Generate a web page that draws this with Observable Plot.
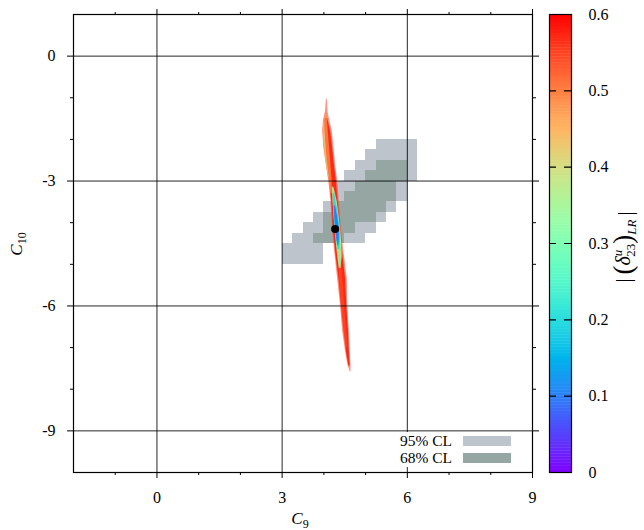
<!DOCTYPE html>
<html><head><meta charset="utf-8">
<script src="https://cdn.jsdelivr.net/npm/d3@7"></script>
<script src="https://cdn.jsdelivr.net/npm/@observablehq/plot@0.6"></script>
<style>
body{margin:0;background:#fff;}
#wrap{position:relative;width:644px;height:530px;}
#wrap svg{position:absolute;top:0;}
</style></head><body><div id="wrap"></div>
<script>
// ---- ticks ----
const xMajorTicks = [0, 3, 6, 9];
const xMinorTicks = [-1, 1, 2, 4, 5, 7, 8];
const yMajorTicks = [0, -3, -6, -9];
const yMinorTicks = [-1, -2, -4, -5, -7, -8];
const xGrid = [0, 3, 6];
const yGrid = [0, -3, -6, -9];
const cbTicks = [0, 0.1, 0.2, 0.3, 0.4, 0.5, 0.6];
const cbDashTicks = [0.1, 0.2, 0.3, 0.4, 0.5];
const legendLabels = ["95% CL", "68% CL"];
const legendColors = ["#bdc4cc", "#95a6a3"];

// ---- 95% CL cells (rows 0.25 high in C10, top edge given) ----
const cl95Top = [-2.0, -2.25, -2.5, -2.75, -3.0, -3.25, -3.5, -3.75, -4.0, -4.25, -4.5, -4.75];
const cl95Min = [5.25, 5.0, 4.75, 4.5, 4.25, 4.25, 4.0, 3.75, 3.5, 3.25, 3.0, 3.0];
const cl95Max = [6.25, 6.25, 6.25, 6.25, 6.0, 6.0, 5.75, 5.5, 5.25, 5.0, 4.0, 4.0];
// ---- 68% CL cells ----
const cl68Top = [-2.5, -2.75, -3.0, -3.25, -3.5, -3.75, -4.0, -4.25];
const cl68Min = [5.25, 5.0, 4.75, 4.5, 4.25, 4.0, 4.0, 3.75];
const cl68Max = [6.0, 6.0, 5.75, 5.75, 5.5, 5.25, 4.75, 4.5];
const cellSize = 0.25;

// ---- scan band outline, sparse edge (|delta| ~ 0.56) ----
const bandC10   = [-1.03, -1.35, -1.55, -1.8, -2.2, -2.6, -3.0, -3.5, -4.15, -4.7, -5.35, -6.0, -6.6, -7.1, -7.4, -7.58];
const bandLeft  = [4.06, 4.04, 3.99, 3.97, 4.00, 4.06, 4.12, 4.17, 4.21, 4.26, 4.33, 4.40, 4.45, 4.52, 4.57, 4.63];
const bandRight = [4.08, 4.10, 4.14, 4.20, 4.24, 4.28, 4.33, 4.37, 4.42, 4.48, 4.56, 4.57, 4.61, 4.63, 4.65, 4.65];
const bandValue = 0.56;
// dense inner part of the band
const coreC10   = [-1.5, -1.8, -2.2, -2.6, -3.0, -3.5, -4.15, -4.7, -5.35, -6.0, -6.6, -7.1, -7.45];
const coreLeft  = [4.03, 4.01, 4.03, 4.08, 4.14, 4.19, 4.23, 4.28, 4.36, 4.42, 4.48, 4.54, 4.60];
const coreRight = [4.09, 4.16, 4.21, 4.25, 4.30, 4.34, 4.40, 4.45, 4.52, 4.55, 4.59, 4.61, 4.63];
const coreValue = 0.57;
// orange speckle strip (upper part)
const orangeC10   = [-1.3, -1.6, -2.0, -2.5, -3.0, -3.3];
const orangeLeft  = [4.04, 4.00, 3.99, 4.04, 4.12, 4.17];
const orangeRight = [4.06, 4.09, 4.12, 4.16, 4.20, 4.20];
const orangeValue = 0.48;
// lighter speckles in the lower part
const lowOrangeC10   = [-5.0, -5.6, -6.3, -7.0];
const lowOrangeLeft  = [4.36, 4.39, 4.44, 4.52];
const lowOrangeRight = [4.42, 4.47, 4.52, 4.58];
const lowOrangeValue = 0.5;
// yellow-green speckles (upper left edge)
const yellowC10   = [-1.6, -2.0, -2.5, -2.9];
const yellowLeft  = [4.00, 4.00, 4.05, 4.11];
const yellowRight = [4.02, 4.04, 4.08, 4.13];
const yellowValue = 0.4;
// low-value core around best fit
const greenC10   = [-3.15, -3.5, -3.9, -4.15, -4.5, -4.8, -5.1];
const greenLeft  = [4.20, 4.22, 4.25, 4.27, 4.30, 4.33, 4.37];
const greenRight = [4.24, 4.32, 4.37, 4.40, 4.43, 4.44, 4.41];
const greenValue = 0.34;
const cyanC10   = [-3.3, -3.6, -3.9, -4.15, -4.4, -4.65];
const cyanLeft  = [4.23, 4.23, 4.25, 4.27, 4.30, 4.34];
const cyanRight = [4.26, 4.31, 4.36, 4.39, 4.40, 4.38];
const cyanValue = 0.2;
const blueC10   = [-3.6, -3.85, -4.15, -4.4, -4.55];
const blueLeft  = [4.25, 4.26, 4.28, 4.31, 4.34];
const blueRight = [4.28, 4.33, 4.37, 4.37, 4.36];
const blueValue = 0.1;
// best fit point
const bestC9 = [4.27];
const bestC10 = [-4.15];

// ---- build tables ----
const cells = (top, lo, hi) => top.map((t, i) => ({x1: lo[i], x2: hi[i], y1: t, y2: t - cellSize}));
const layer = (c10, lo, hi, v) => c10.map((y, i) => ({y, x1: lo[i], x2: hi[i], v}));
const cells95 = cells(cl95Top, cl95Min, cl95Max);
const cells68 = cells(cl68Top, cl68Min, cl68Max);
const band = layer(bandC10, bandLeft, bandRight, bandValue);
const core = layer(coreC10, coreLeft, coreRight, coreValue);
const orange = layer(orangeC10, orangeLeft, orangeRight, orangeValue);
const lowOrange = layer(lowOrangeC10, lowOrangeLeft, lowOrangeRight, lowOrangeValue);
const yellow = layer(yellowC10, yellowLeft, yellowRight, yellowValue);
const green = layer(greenC10, greenLeft, greenRight, greenValue);
const cyan = layer(cyanC10, cyanLeft, cyanRight, cyanValue);
const blue = layer(blueC10, blueLeft, blueRight, blueValue);
const best = bestC9.map((x, i) => ({x, y: bestC10[i]}));

const rainbow = t => d3.rgb(255 * Math.min(1, Math.abs(2 * t - 0.5)), 255 * Math.sin(Math.PI * t), 255 * Math.cos(Math.PI * t / 2)).formatRgb();
const colorScale = {type: "linear", domain: [0, 0.6], interpolate: rainbow};
const FONT = "'Liberation Serif', serif";

const area = (data, extra = {}) => Plot.areaX(data, {y: "y", x1: "x1", x2: "x2", fill: "v", curve: "linear", ...extra});
const noText = () => "";

const main = Plot.plot({
  width: 644, height: 530,
  marginLeft: 73, marginRight: 112, marginTop: 14, marginBottom: 58,
  style: {fontFamily: FONT, fontSize: "16px", background: "white", color: "black"},
  x: {domain: [-2, 9], label: null},
  y: {domain: [-10, 1], label: null},
  color: colorScale,
  marks: [
    Plot.rect(cells95, {x1: "x1", x2: "x2", y1: "y1", y2: "y2", fill: legendColors[0], shapeRendering: "crispEdges"}),
    Plot.rect(cells68, {x1: "x1", x2: "x2", y1: "y1", y2: "y2", fill: legendColors[1], shapeRendering: "crispEdges"}),
    area(band, {fillOpacity: 0.55}),
    area(core),
    area(orange, {fillOpacity: 0.7}),
    area(lowOrange, {fillOpacity: 0.3}),
    area(yellow, {fillOpacity: 0.7}),
    area(green, {fillOpacity: 0.9}),
    area(cyan),
    area(blue),
    Plot.dot(best, {x: "x", y: "y", r: 4, fill: "black"}),
    Plot.gridX(xGrid, {stroke: "black", strokeOpacity: 0.85, strokeWidth: 1}),
    Plot.gridY(yGrid, {stroke: "black", strokeOpacity: 0.85, strokeWidth: 1}),
    Plot.frame({stroke: "black", strokeWidth: 1.2}),
    Plot.axisX(xMajorTicks, {anchor: "bottom", tickSize: 6, tickPadding: 13, tickFormat: d => String(d), label: null}),
    Plot.axisX(xMinorTicks, {anchor: "bottom", tickSize: 3, tickFormat: noText, label: null}),
    Plot.axisX(xMajorTicks, {anchor: "top", tickSize: 6, tickFormat: noText, label: null}),
    Plot.axisX(xMinorTicks, {anchor: "top", tickSize: 3, tickFormat: noText, label: null}),
    Plot.axisY(yMajorTicks, {anchor: "left", tickSize: 6, tickPadding: 12, tickFormat: d => String(d), label: null}),
    Plot.axisY(yMinorTicks, {anchor: "left", tickSize: 3, tickFormat: noText, label: null}),
    Plot.axisY(yMajorTicks, {anchor: "right", tickSize: 6, tickFormat: noText, label: null}),
    Plot.axisY(yMinorTicks, {anchor: "right", tickSize: 3, tickFormat: noText, label: null})
  ]
});

const cbStops = d3.range(0, 0.6, 0.004);
const cb = Plot.plot({
  width: 104, height: 530,
  marginLeft: 9, marginRight: 73, marginTop: 14, marginBottom: 58,
  style: {fontFamily: FONT, fontSize: "16px", background: "transparent", color: "black"},
  x: {domain: [0, 1], axis: null},
  y: {domain: [0, 0.6], axis: null},
  color: colorScale,
  marks: [
    Plot.rect(cbStops, {x1: 0, x2: 1, y1: d => d, y2: d => Math.min(0.6, d + 0.0045), fill: d => d + 0.002}),
    Plot.ruleY(cbDashTicks, {stroke: "black", strokeWidth: 1.2, strokeDasharray: "7,8"}),
    Plot.frame({stroke: "black", strokeWidth: 1.2}),
    Plot.axisY(cbTicks, {anchor: "right", tickSize: 0, tickPadding: 17, tickFormat: d => d === 0 ? "0" : d.toFixed(1), label: null})
  ]
});

const wrap = document.getElementById("wrap");
wrap.appendChild(main);
cb.style.left = "540px";
wrap.appendChild(cb);

// ---- legend and axis titles ----
const s = d3.select(main);
s.append("rect").attr("x", 384).attr("y", 432).attr("width", 146.5).attr("height", 35).attr("fill", "white");
legendLabels.forEach((lab, i) => {
  const yb = 446 + i * 17;
  s.append("text").attr("x", 452).attr("y", yb).attr("text-anchor", "end")
    .style("font-family", FONT).style("font-size", "15.5px").attr("fill", "black").text(lab);
  s.append("rect").attr("x", 463).attr("y", yb - 10).attr("width", 48).attr("height", 10).attr("fill", legendColors[i]);
});

const xl = s.append("text").attr("x", 300).attr("y", 524).attr("text-anchor", "middle")
  .style("font-family", FONT).style("font-size", "17px").attr("fill", "black");
xl.append("tspan").style("font-style", "italic").text("C");
xl.append("tspan").attr("dy", 4).style("font-size", "12px").text("9");

const yl = s.append("text").attr("transform", "translate(22,244) rotate(-90)").attr("text-anchor", "middle")
  .style("font-family", FONT).style("font-size", "17px").attr("fill", "black");
yl.append("tspan").style("font-style", "italic").text("C");
yl.append("tspan").attr("dy", 4).style("font-size", "12px").text("10");

const c = d3.select(cb);
const cl = c.append("text").attr("transform", "translate(90,247) rotate(-90)").attr("text-anchor", "middle")
  .style("font-family", FONT).style("font-size", "20px").attr("fill", "black");
cl.append("tspan").text("|\u2009");
cl.append("tspan").style("font-size", "27px").attr("dy", 2).text("(");
cl.append("tspan").style("font-style", "italic").attr("dy", -2).text("δ");
cl.append("tspan").attr("dy", -8).style("font-size", "13px").style("font-style", "italic").text("u");
cl.append("tspan").attr("dx", -7).attr("dy", 13).style("font-size", "13px").text("23");
cl.append("tspan").style("font-size", "27px").attr("dy", -3).text(")");
cl.append("tspan").attr("dy", 4).style("font-size", "13px").style("font-style", "italic").text("LR");
cl.append("tspan").attr("dy", -4).text("\u2009|");
</script></body></html>
